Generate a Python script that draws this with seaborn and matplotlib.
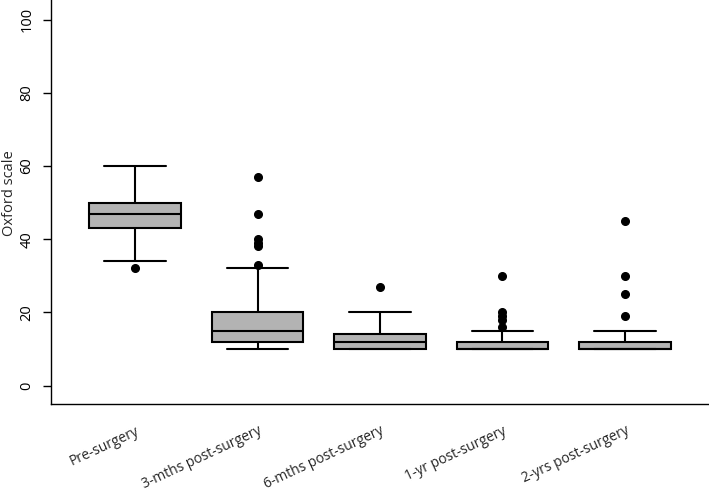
import numpy as np
import pandas as pd
import matplotlib
matplotlib.use("Agg")
import matplotlib.pyplot as plt
import seaborn as sns

# ---------------- data (Oxford scale scores per follow-up) ----------------
groups = ["Pre-surgery", "3-mths post-surgery", "6-mths post-surgery",
          "1-yr post-surgery", "2-yrs post-surgery"]

pre_surgery = [32, 34, 43, 45, 47, 48, 50, 55, 60]
mths3 = [10, 10, 11, 11, 12, 12, 12, 12,
         13, 13, 14, 14, 15, 15, 15,
         16, 17, 17, 18, 19, 20, 20,
         32, 33, 38, 39, 40, 47, 57]
mths6 = [10, 10, 10, 11, 12, 13, 14, 20, 27]
yr1 = [10, 10, 10, 10, 10, 10, 10, 10, 10, 10, 10, 10, 10,
       11, 11, 11, 12, 12, 12,
       15, 16, 18, 19, 20, 30]
yrs2 = [10, 10, 10, 10, 10, 10, 10, 10, 10, 10, 10,
        10, 11, 11, 12, 12,
        15, 19, 25, 30, 45]

y_ticks = [0, 20, 40, 60, 80, 100]

series = [pre_surgery, mths3, mths6, yr1, yrs2]
df = pd.concat(
    [pd.DataFrame({"group": g, "score": s}) for g, s in zip(groups, series)],
    ignore_index=True,
)

# ---------------- plot ----------------
sns.set_style("ticks")
plt.rcParams["font.family"] = ["Open Sans", "DejaVu Sans"]

fig = plt.figure(figsize=(7.09, 4.96), dpi=100)
W, H = 709, 496
ax_left, ax_bottom, ax_top = 51, 404, -17
ax = fig.add_axes([ax_left / W, (H - ax_bottom) / H,
                   (W - ax_left) / W, (ax_bottom - ax_top) / H])

sns.boxplot(data=df, x="group", y="score", order=groups, ax=ax,
            color="#b3b3b3", saturation=1, width=0.75, linecolor="black",
            linewidth=1.5, whis=1.5, fliersize=5.5, capwidths=0.5,
            flierprops=dict(marker="o", markerfacecolor="black",
                            markeredgecolor="black"))

ax.set_ylim(-5.05, 110.0)
ax.set_xlim(-0.686, 4.686)
ax.set_yticks(y_ticks)
ax.set_yticklabels([str(t) for t in y_ticks], rotation=90, va="center",
                   fontsize=10.5)
ax.tick_params(axis="y", length=6, width=1, pad=6, colors="black")

ax.set_xticks(range(len(groups)))
ax.set_xticklabels(groups, rotation=25, ha="right", va="top",
                   rotation_mode="anchor", fontsize=10)
ax.tick_params(axis="x", length=0, pad=14)

ax.set_xlabel("")
ax.set_ylabel("Oxford scale", fontsize=10.5)
ax.yaxis.set_label_coords((17 - ax_left) / (W - ax_left), 0.5)

sns.despine(ax=ax)
for sp in ["left", "bottom"]:
    ax.spines[sp].set_linewidth(1)
    ax.spines[sp].set_color("black")

fig.savefig("out.png", dpi=100)
